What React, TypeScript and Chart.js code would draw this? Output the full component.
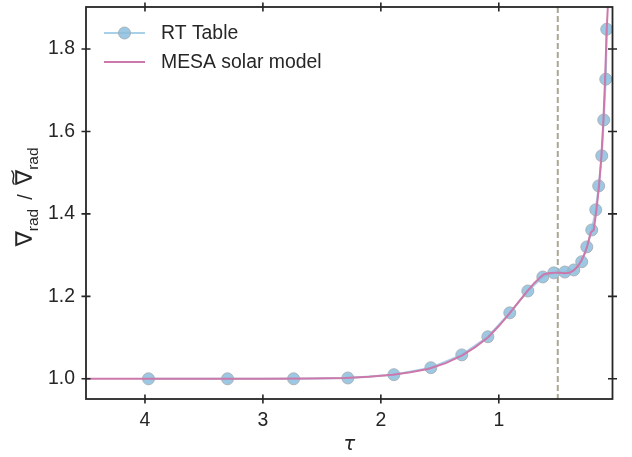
import React, { useEffect, useRef } from 'react';
import { Chart, registerables } from 'chart.js';

Chart.register(...registerables);

// RT Table points (optical depth tau, gradient ratio)
const rtTau = [3.97, 3.30, 2.74, 2.28, 1.89, 1.576, 1.314, 1.093, 0.907, 0.754, 0.627, 0.534, 0.44, 0.364, 0.297, 0.254, 0.212, 0.178, 0.153, 0.127, 0.11, 0.093, 0.085];
const rtGrad = [1.0, 1.0, 1.0, 1.002, 1.01, 1.027, 1.058, 1.102, 1.16, 1.213, 1.247, 1.257, 1.259, 1.264, 1.284, 1.32, 1.361, 1.41, 1.468, 1.541, 1.628, 1.727, 1.848];

// MESA solar model curve
const mesaTau = [4.5, 4.0, 3.5, 3.0, 2.6, 2.3, 2.1, 1.9, 1.75, 1.6, 1.45, 1.31, 1.2, 1.09, 1.0, 0.91, 0.83, 0.76, 0.7, 0.65, 0.62, 0.58, 0.53, 0.48, 0.44, 0.4, 0.365, 0.33, 0.3, 0.27, 0.25, 0.22, 0.195, 0.172, 0.15, 0.13, 0.113, 0.099, 0.085, 0.076, 0.07];
const mesaGrad = [1.0, 1.0, 1.0, 1.0, 1.0005, 1.002, 1.005, 1.01, 1.016, 1.024, 1.038, 1.057, 1.077, 1.101, 1.128, 1.158, 1.187, 1.212, 1.232, 1.246, 1.253, 1.256, 1.257, 1.257, 1.256, 1.257, 1.263, 1.273, 1.287, 1.305, 1.322, 1.355, 1.361, 1.41, 1.468, 1.541, 1.628, 1.727, 1.848, 1.9, 1.95];

const xTicks = [4, 3, 2, 1];
const yTicks = [1.0, 1.2, 1.4, 1.6, 1.8];
const xRange = [0.036, 4.5];
const yRange = [0.951, 1.902];
const tauMarker = 0.5;

const legendLabels = ['RT Table', 'MESA solar model'];

const INK = '#262626';
const BLUE_FILL = 'rgba(140,190,222,0.85)';
const BLUE_EDGE = 'rgba(165,172,178,0.85)';
const BLUE_LINE = 'rgba(140,192,226,0.75)';
const PINK = '#cc78aa';
const FONT = '"Liberation Sans", Arial, sans-serif';

const decor = {
  id: 'decor',
  beforeDatasetsDraw(chart: any) {
    const { ctx, chartArea, scales } = chart;
    const x = scales.x.getPixelForValue(tauMarker);
    ctx.save();
    ctx.strokeStyle = 'rgba(165,162,145,0.95)';
    ctx.lineWidth = 2;
    ctx.setLineDash([6, 3]);
    ctx.beginPath();
    ctx.moveTo(x, chartArea.top);
    ctx.lineTo(x, chartArea.bottom);
    ctx.stroke();
    ctx.restore();
  },
  afterDatasetsDraw(chart: any) {
    const { ctx, chartArea: a, scales } = chart;
    ctx.save();
    // frame
    ctx.strokeStyle = INK;
    ctx.lineWidth = 1.8;
    ctx.strokeRect(a.left, a.top, a.right - a.left, a.bottom - a.top);
    // ticks (in-out) on all four sides
    const t = 4.5;
    ctx.lineWidth = 1.6;
    ctx.beginPath();
    xTicks.forEach((v) => {
      const px = scales.x.getPixelForValue(v);
      ctx.moveTo(px, a.bottom - t); ctx.lineTo(px, a.bottom + t);
      ctx.moveTo(px, a.top - t); ctx.lineTo(px, a.top + t);
    });
    yTicks.forEach((v) => {
      const py = scales.y.getPixelForValue(v);
      ctx.moveTo(a.left - t, py); ctx.lineTo(a.left + t, py);
      ctx.moveTo(a.right - t, py); ctx.lineTo(a.right + t, py);
    });
    ctx.stroke();

    // legend
    const lx0 = a.left + 18, lx1 = a.left + 59, tx = a.left + 75;
    const ly0 = a.top + 26, ly1 = a.top + 55;
    ctx.lineWidth = 2;
    ctx.strokeStyle = BLUE_LINE;
    ctx.beginPath(); ctx.moveTo(lx0, ly0); ctx.lineTo(lx1, ly0); ctx.stroke();
    ctx.beginPath();
    ctx.arc((lx0 + lx1) / 2, ly0, 6, 0, Math.PI * 2);
    ctx.fillStyle = BLUE_FILL; ctx.fill();
    ctx.lineWidth = 1; ctx.strokeStyle = BLUE_EDGE; ctx.stroke();
    ctx.lineWidth = 2;
    ctx.strokeStyle = PINK;
    ctx.beginPath(); ctx.moveTo(lx0, ly1); ctx.lineTo(lx1, ly1); ctx.stroke();
    ctx.fillStyle = INK;
    ctx.font = '19.4px ' + FONT;
    ctx.textBaseline = 'middle';
    ctx.textAlign = 'left';
    ctx.fillText(legendLabels[0], tx, ly0 + 1);
    ctx.fillText(legendLabels[1], tx, ly1 + 1);

    // x title
    ctx.font = 'italic 19.4px "DejaVu Sans"';
    ctx.textAlign = 'center';
    ctx.textBaseline = 'alphabetic';
    ctx.fillText('τ', (a.left + a.right) / 2, 450);

    // y title
    const big = '23px "DejaVu Sans"';
    const mid = '20px ' + FONT;
    const sub = '15.5px ' + FONT;
    ctx.translate(32, 197);
    ctx.rotate(-Math.PI / 2);
    ctx.textAlign = 'left';
    ctx.font = big;
    const wN = ctx.measureText('∇').width;
    ctx.font = mid;
    const wSl = ctx.measureText('/').width;
    const gap = 9;
    const wS = wSl + 2 * gap;
    ctx.font = sub;
    const wR = ctx.measureText('rad').width;
    const total = wN + wR + wS + wN + wR;
    let x = -total / 2;
    const subDy = 6;
    ctx.font = big; ctx.fillText('∇', x, 0); x += wN;
    ctx.font = sub; ctx.fillText('rad', x, subDy); x += wR;
    ctx.font = mid; ctx.fillText('/', x + gap, 0); x += wS;
    ctx.font = big; ctx.fillText('∇', x, 0);
    const cx = x + wN / 2, ty = -19;
    ctx.strokeStyle = INK;
    ctx.lineWidth = 1.4;
    ctx.beginPath();
    ctx.moveTo(cx - 7, ty + 1.5);
    ctx.bezierCurveTo(cx - 3, ty - 3.5, cx + 1, ty + 4.5, cx + 7, ty - 1.5);
    ctx.stroke();
    x += wN;
    ctx.font = sub; ctx.fillText('rad', x, subDy);
    ctx.restore();
  },
};

export default function App() {
  const ref = useRef<HTMLCanvasElement>(null);
  useEffect(() => {
    if (!ref.current) return;
    const chart = new Chart(ref.current, {
      type: 'line',
      data: {
        datasets: [
          {
            label: legendLabels[1],
            data: mesaTau.map((t, i) => ({ x: t, y: mesaGrad[i] })),
            borderColor: PINK,
            borderWidth: 2,
            pointRadius: 0,
            tension: 0,
            fill: false,
            clip: 0,
            order: 0,
          },
          {
            label: legendLabels[0],
            data: rtTau.map((t, i) => ({ x: t, y: rtGrad[i] })),
            borderColor: BLUE_LINE,
            borderWidth: 2,
            pointRadius: 6,
            pointBackgroundColor: BLUE_FILL,
            pointBorderColor: BLUE_EDGE,
            pointBorderWidth: 1,
            tension: 0,
            fill: false,
            order: 1,
          },
        ],
      },
      options: {
        responsive: false,
        animation: false,
        devicePixelRatio: 1,
        layout: { padding: { top: 7, right: 19.5, left: 0, bottom: 0 } },
        plugins: { legend: { display: false }, tooltip: { enabled: false } },
        scales: {
          x: {
            type: 'linear',
            reverse: true,
            min: xRange[0],
            max: xRange[1],
            afterBuildTicks: (s: any) => { s.ticks = xTicks.map((v) => ({ value: v })); },
            afterFit: (s: any) => { s.height = 58; s.paddingLeft = 0; s.paddingRight = 0; },
            grid: { display: false, drawTicks: false },
            border: { display: false },
            ticks: {
              padding: 10,
              color: INK,
              font: { size: 19.4, family: FONT },
              callback: (v: any) => String(v),
              maxRotation: 0,
            },
          },
          y: {
            type: 'linear',
            min: yRange[0],
            max: yRange[1],
            afterBuildTicks: (s: any) => { s.ticks = yTicks.map((v) => ({ value: v })); },
            afterFit: (s: any) => { s.width = 86; s.paddingTop = 0; s.paddingBottom = 0; },
            grid: { display: false, drawTicks: false },
            border: { display: false },
            ticks: {
              padding: 11,
              color: INK,
              font: { size: 19.4, family: FONT },
              callback: (v: any) => Number(v).toFixed(1),
            },
          },
        },
      },
      plugins: [decor],
    } as any);
    return () => chart.destroy();
  }, []);
  return (
    <div style={{ position: 'absolute', left: 0, top: 0, width: 632, height: 457, background: '#fff' }}>
      <canvas ref={ref} width={632} height={457} />
    </div>
  );
}
